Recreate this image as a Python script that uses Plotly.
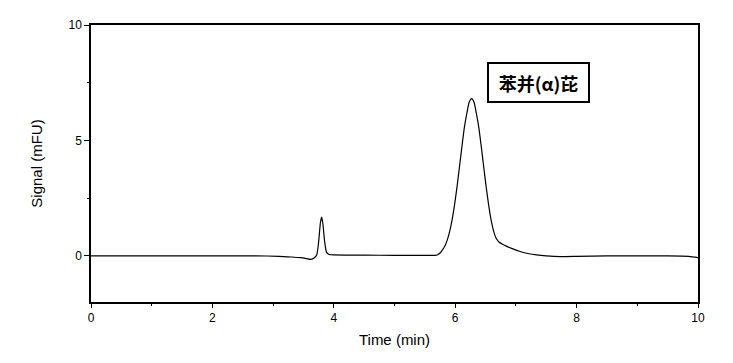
import plotly.graph_objects as go

# Chromatogram readings (time in min, signal in mFU)
time_min = [0, 1, 2, 2.7, 3.1, 3.3, 3.45, 3.55, 3.62, 3.68, 3.72, 3.75, 3.78, 3.80, 3.82,
            3.85, 3.88, 3.92, 4.0, 4.5, 5.0, 5.5, 5.67, 5.71, 5.75, 5.79, 5.83, 5.87, 5.91,
            5.95, 5.99, 6.03, 6.07, 6.11, 6.15, 6.19, 6.23, 6.27, 6.31, 6.35, 6.39, 6.43,
            6.47, 6.51, 6.55, 6.59, 6.63, 6.67, 6.72, 6.78, 6.85, 6.95, 7.07, 7.2, 7.34,
            7.5, 7.73, 8.0, 8.5, 9.0, 9.5, 9.85, 10.0]
signal_mfu = [0, 0, 0, 0, -0.02, -0.05, -0.08, -0.12, -0.15, -0.08, 0.05, 0.6, 1.45, 1.68, 1.4,
              0.6, 0.15, 0.06, 0.04, 0.03, 0.02, 0.02, 0.02, 0.05, 0.12, 0.26, 0.43, 0.69, 1.07,
              1.58, 2.22, 2.99, 3.85, 4.72, 5.54, 6.15, 6.65, 6.81, 6.65, 6.15, 5.54, 4.72,
              3.85, 2.99, 2.22, 1.58, 1.1, 0.78, 0.6, 0.5, 0.41, 0.30, 0.19, 0.10, 0.04,
              0.0, -0.03, -0.02, 0.0, 0.0, 0.0, -0.02, -0.08]

peak_label = "苯并(α)芘"
peak_label_pos = (7.38, 7.52)

x_ticks = [0, 2, 4, 6, 8, 10]
y_ticks = [0, 5, 10]

fig = go.Figure()
fig.add_trace(go.Scatter(x=time_min, y=signal_mfu, mode="lines",
                         line=dict(color="black", width=1.2, shape="spline", smoothing=0.5),
                         showlegend=False))

axis_font = dict(family="Liberation Sans, Arial", size=12, color="black")
title_font = dict(family="Liberation Sans, Arial", size=15, color="black")

fig.update_xaxes(range=[0, 10], tickvals=x_ticks, ticktext=[str(v) for v in x_ticks],
                 ticks="outside", ticklen=4, tickwidth=1, tickcolor="black",
                 minor=dict(dtick=1, ticks="outside", ticklen=2, tickcolor="black"),
                 showline=True, linecolor="black", linewidth=1.5, mirror=True,
                 showgrid=False, zeroline=False, tickfont=axis_font,
                 title=dict(text="Time (min)", font=title_font, standoff=10))
fig.update_yaxes(range=[-2, 10], tickvals=y_ticks, ticktext=[str(v) for v in y_ticks],
                 ticks="outside", ticklen=5, tickwidth=1, tickcolor="black",
                 minor=dict(dtick=2.5, ticks="outside", ticklen=2, tickcolor="black"),
                 showline=True, linecolor="black", linewidth=1.5, mirror=True,
                 showgrid=False, zeroline=False, tickfont=axis_font,
                 title=dict(text="Signal (mFU)", font=title_font, standoff=22))

fig.add_annotation(x=peak_label_pos[0], y=peak_label_pos[1], text="<b>" + peak_label + "</b>",
                   showarrow=False, font=dict(family="Noto Sans CJK SC", size=18, color="black"),
                   bordercolor="black", borderwidth=2, borderpad=1, bgcolor="white",
                   width=97, height=35)

fig.update_layout(width=733, height=363, margin=dict(l=91, r=35, t=25, b=61),
                  plot_bgcolor="white", paper_bgcolor="white")

fig.write_html("out.html", config={"displayModeBar": False},
               post_script="document.body.style.margin='0px';")
